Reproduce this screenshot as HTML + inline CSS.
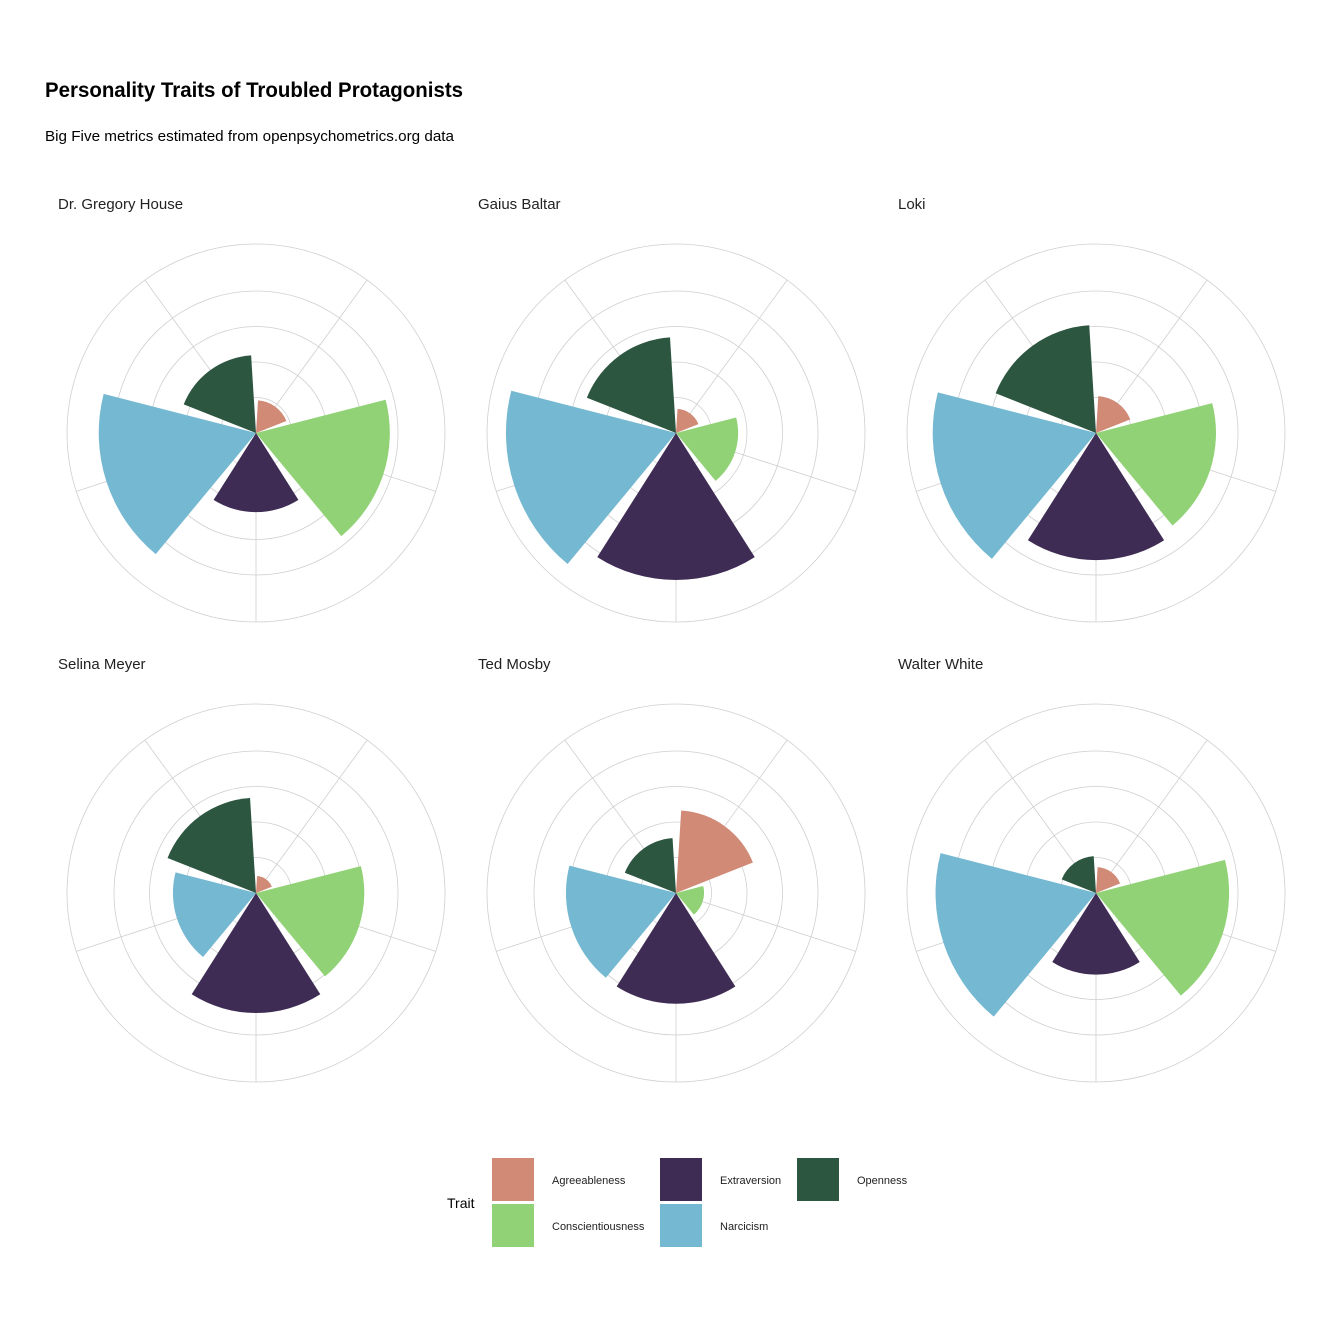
<!DOCTYPE html>
<html><head><meta charset="utf-8"><style>
html,body{margin:0;padding:0;background:#fff}
svg{display:block}
text{font-family:"Liberation Sans Narrow","Liberation Sans",sans-serif}
</style></head><body>
<svg id="chart" width="1344" height="1344" viewBox="0 0 1344 1344">
<rect width="1344" height="1344" fill="#fff"/>
<text x="45" y="97" font-size="21" font-weight="bold" textLength="418" lengthAdjust="spacingAndGlyphs">Personality Traits of Troubled Protagonists</text>
<text x="45" y="141" font-size="15" textLength="409" lengthAdjust="spacingAndGlyphs">Big Five metrics estimated from openpsychometrics.org data</text>
<g id="panels"></g>
<g id="legend">
<text x="447" y="1208" font-size="14">Trait</text>
</g>
</svg>
<script>
const characters = ["Dr. Gregory House","Gaius Baltar","Loki","Selina Meyer","Ted Mosby","Walter White"];
const traits = ["Agreeableness","Conscientiousness","Extraversion","Narcicism","Openness"];
const colors = ["#D08A76","#90D275","#3E2C54","#75B8D1","#2D5641"];
const agreeableness = [0.92,0.68,1.04,0.48,2.33,0.73];
const conscientiousness = [3.77,1.75,3.38,3.05,0.79,3.75];
const extraversion = [2.23,4.14,3.58,3.38,3.12,2.30];
const narcissism = [4.43,4.79,4.60,2.34,3.10,4.52];
const openness = [2.19,2.70,3.04,2.68,1.55,1.04];
const gridValues = [1,2,3,4];

const NS = "http://www.w3.org/2000/svg";
const unit = 35.5, outerR = 189;
function rScale(v){ return v*unit; }
function angScale(i){ return i*72; } // category start angle (deg)
function pt(cx,cy,r,a){ const t=a*Math.PI/180; return [cx+r*Math.sin(t), cy-r*Math.cos(t)]; }
function mk(tag,attrs,parent){ const e=document.createElementNS(NS,tag); for(const k in attrs) e.setAttribute(k,attrs[k]); parent.appendChild(e); return e; }

const panels = document.getElementById('panels');
const series = [agreeableness,conscientiousness,extraversion,narcissism,openness];
characters.forEach((name,ci)=>{
  const col = ci%3, row = Math.floor(ci/3);
  const cx = 256 + col*420, cy = 433 + row*460;
  const g = mk('g',{},panels);
  
  
  const t = mk('text',{x:cx-198,y:cy-224,'font-size':15,fill:'#222'},g);
  t.textContent = name;
  
  
  gridValues.concat([null]).forEach(v=>{
    const c = mk('circle',{cx:cx,cy:cy,r:v===null?outerR:rScale(v),fill:'none',stroke:'#cfcfcf','stroke-width':0.8},g);
    
    
  });
  traits.forEach((tr,ti)=>{
    const p = pt(cx,cy,outerR,angScale(ti)+36);
    const l = mk('line',{x1:cx,y1:cy,x2:p[0],y2:p[1],stroke:'#cfcfcf','stroke-width':0.8},g);
    
    
  });
  traits.forEach((tr,ti)=>{
    const v = series[ti][ci], r = rScale(v);
    const a0 = angScale(ti)+3.6, a1 = angScale(ti)+68.4;
    const p0 = pt(cx,cy,r,a0), p1 = pt(cx,cy,r,a1);
    const w = mk('path',{d:`M${cx},${cy}L${p0[0]},${p0[1]}A${r},${r} 0 0 1 ${p1[0]},${p1[1]}Z`,fill:colors[ti]},g);
    
    
  });
});

const legend = document.getElementById('legend');
const lpos = [[492,1158],[492,1204],[660,1158],[660,1204],[797,1158]];
traits.forEach((tr,ti)=>{
  const [x,y] = lpos[ti];
  const r = mk('rect',{x:x,y:y,width:42,height:43,fill:colors[ti]},legend);
  
  
  const t = mk('text',{x:x+60,y:y+26,'font-size':11,fill:'#222'},legend);
  t.textContent = tr;
  
  
});
</script>
</body></html>
